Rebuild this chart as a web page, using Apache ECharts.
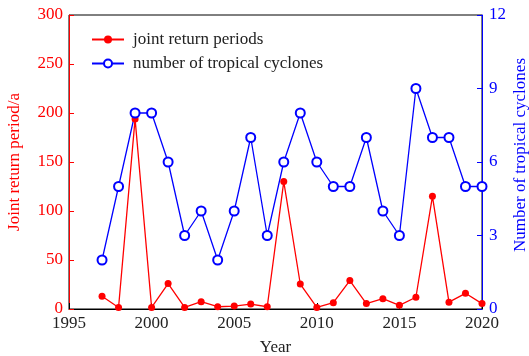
<!DOCTYPE html>
<html><head><meta charset="utf-8">
<script src="https://cdn.jsdelivr.net/npm/echarts@6/dist/echarts.min.js"></script>
<style>html,body{margin:0;padding:0;background:#fff}#c{width:529px;height:356px}</style>
</head><body><div id="c"></div>
<script>
var years = [1997,1998,1999,2000,2001,2002,2003,2004,2005,2006,2007,2008,2009,2010,2011,2012,2013,2014,2015,2016,2017,2018,2019,2020];
var returnPeriods = [13,1.6,194,1.6,26,1.6,7.5,2.3,3,5,2.3,130,25.5,1.6,6.5,29,5.5,10.5,3.7,12,115,7,16,5.5];
var cyclones = [2,5,8,8,6,3,4,2,4,7,3,6,8,6,5,5,7,4,3,9,7,7,5,5];
var xTicks = [1995,2000,2005,2010,2015,2020];
var leftTicks = [0,50,100,150,200,250,300];
var rightTicks = [0,3,6,9,12];

var FONT = 'Liberation Serif';
var chart = echarts.init(document.getElementById('c'));
function pairs(ys){ return years.map(function(y,i){ return [y, ys[i]]; }); }
chart.setOption({
  animation: false,
  grid: {left: 69, right: 47, top: 15, bottom: 47, containLabel: false, outerBoundsMode: 'none', show: true, borderColor: '#000', borderWidth: 1, backgroundColor: 'transparent'},
  legend: {
    left: 86, top: 26, orient: 'vertical', itemGap: 7, itemWidth: 32, itemHeight: 10,
    textStyle: {fontFamily: FONT, fontSize: 17, color: '#222', padding: [0,0,0,4]},
    data: ['joint return periods', 'number of tropical cyclones']
  },
  xAxis: {
    type: 'value', min: xTicks[0], max: xTicks[xTicks.length-1], interval: 5,
    name: 'Year', nameLocation: 'middle', nameGap: 30, nameMoveOverlap: false,
    nameTextStyle: {fontFamily: FONT, fontSize: 17, color: '#222'},
    axisLine: {lineStyle: {color: '#000', width: 1}},
    axisTick: {inside: true, length: 6, lineStyle: {color: '#000'}},
    axisLabel: {fontFamily: FONT, fontSize: 17, color: '#222', margin: 6, formatter: function(v){ return String(v); }},
    splitLine: {show: false}
  },
  yAxis: [{
    type: 'value', min: leftTicks[0], max: leftTicks[leftTicks.length-1], interval: 50, position: 'left',
    name: 'Joint return period/a', nameLocation: 'middle', nameGap: 46, nameMoveOverlap: false,
    nameTextStyle: {fontFamily: FONT, fontSize: 17, color: '#ff0000'},
    axisLine: {show: true, lineStyle: {color: '#ff0000', width: 1}},
    axisTick: {show: true, inside: true, length: 5, lineStyle: {color: '#ff0000'}},
    axisLabel: {fontFamily: FONT, fontSize: 17, color: '#ff0000', margin: 6},
    splitLine: {show: false}
  },{
    type: 'value', min: rightTicks[0], max: rightTicks[rightTicks.length-1], interval: 3, position: 'right',
    name: 'Number of tropical cyclones', nameLocation: 'middle', nameGap: 30, nameRotate: 90, nameMoveOverlap: false,
    nameTextStyle: {fontFamily: FONT, fontSize: 17, color: '#0000ff', padding: [0,0,0,14]},
    axisLine: {show: true, lineStyle: {color: '#0000ff', width: 1}},
    axisTick: {show: true, inside: true, length: 5, lineStyle: {color: '#0000ff'}},
    axisLabel: {fontFamily: FONT, fontSize: 17, color: '#0000ff', margin: 7},
    splitLine: {show: false}
  }],
  series: [{
    name: 'joint return periods', type: 'line', yAxisIndex: 0, data: pairs(returnPeriods),
    symbol: 'circle', symbolSize: 7,
    lineStyle: {color: '#ff0000', width: 1.3}, itemStyle: {color: '#ff0000'}
  },{
    name: 'number of tropical cyclones', type: 'line', yAxisIndex: 1, data: pairs(cyclones),
    symbol: 'emptyCircle', symbolSize: 9,
    lineStyle: {color: '#0000ff', width: 1.3}, itemStyle: {color: '#0000ff', borderColor: '#0000ff', borderWidth: 1.2}
  }]
});
</script></body></html>
